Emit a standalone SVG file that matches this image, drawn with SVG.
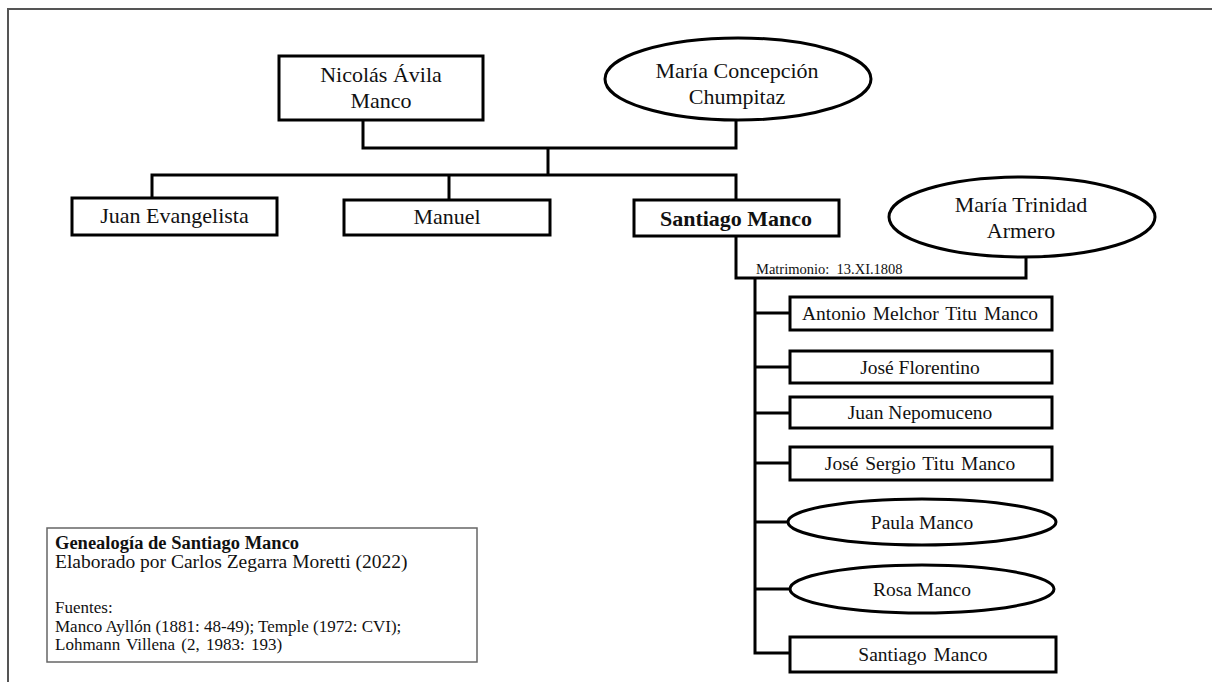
<svg xmlns="http://www.w3.org/2000/svg" width="1212" height="682" viewBox="0 0 1212 682">
<style>
.bg{fill:#fff}
.frame{fill:none;stroke:#555;stroke-width:2}
.node{fill:#fff;stroke:#000;stroke-width:3}
.con{fill:none;stroke:#000;stroke-width:3}
text{font-family:"Liberation Serif","Times New Roman",serif;fill:#111;text-anchor:middle}
.t1{font-size:22px}
.t1b{font-size:22px;font-weight:bold}
.t2{font-size:19.5px}
.small{font-size:14.5px;text-anchor:start}
.leg{fill:#fff;stroke:#666;stroke-width:1.5}
.lt{text-anchor:start}
</style>
<rect class="bg" x="0" y="0" width="1212" height="682"/>
<path class="frame" d="M8,682 V9 H1212"/>
<g id="connectors">
<path class="con" d="M363,120 V148 H736 V120"/>
<path class="con" d="M548,148 V175"/>
<path class="con" d="M152,198 V175 H736 V200"/>
<path class="con" d="M449,175 V200"/>
<path class="con" d="M736,236 V278 H1026 V257"/>
<path class="con" d="M755,278 V653 H790"/>
<path class="con" d="M755,313 H790"/>
<path class="con" d="M755,367 H790"/>
<path class="con" d="M755,413 H790"/>
<path class="con" d="M755,463 H790"/>
<path class="con" d="M755,522 H789"/>
<path class="con" d="M755,589 H791"/>
</g>
<text class="small" x="756" y="274" xml:space="preserve">Matrimonio:  13.XI.1808</text>
<g id="n-nicolas">
<rect class="node" x="279" y="56" width="204" height="64"/>
<text class="t1" x="381" y="82">Nicolás Ávila</text>
<text class="t1" x="381" y="108">Manco</text>
</g>
<g id="n-maria-concepcion">
<ellipse class="node" cx="738" cy="79" rx="133" ry="41"/>
<text class="t1" x="737" y="78">María Concepción</text>
<text class="t1" x="737" y="104">Chumpitaz</text>
</g>
<g id="n-juan-evangelista">
<rect class="node" x="72" y="198" width="205" height="37"/>
<text class="t1" x="174.5" y="223">Juan Evangelista</text>
</g>
<g id="n-manuel">
<rect class="node" x="344" y="200" width="206" height="35"/>
<text class="t1" x="447" y="224">Manuel</text>
</g>
<g id="n-santiago">
<rect class="node" x="634" y="200" width="205" height="36"/>
<text class="t1b" x="736" y="226">Santiago Manco</text>
</g>
<g id="n-maria-trinidad">
<ellipse class="node" cx="1022" cy="217" rx="133" ry="40"/>
<text class="t1" x="1021" y="212">María Trinidad</text>
<text class="t1" x="1021" y="238">Armero</text>
</g>
<g id="n-antonio">
<rect class="node" x="790" y="297" width="262" height="33"/>
<text class="t2" x="920" y="320" word-spacing="2">Antonio Melchor Titu Manco</text>
</g>
<g id="n-jose-florentino">
<rect class="node" x="790" y="351" width="262" height="32"/>
<text class="t2" x="920" y="374">José Florentino</text>
</g>
<g id="n-juan-nepomuceno">
<rect class="node" x="790" y="397" width="262" height="31"/>
<text class="t2" x="920" y="419">Juan Nepomuceno</text>
</g>
<g id="n-jose-sergio">
<rect class="node" x="790" y="447" width="262" height="33"/>
<text class="t2" x="920" y="470" word-spacing="2">José Sergio Titu Manco</text>
</g>
<g id="n-paula">
<ellipse class="node" cx="922" cy="522" rx="134" ry="23"/>
<text class="t2" x="922" y="529">Paula Manco</text>
</g>
<g id="n-rosa">
<ellipse class="node" cx="922" cy="589" rx="132" ry="24"/>
<text class="t2" x="922" y="596">Rosa Manco</text>
</g>
<g id="n-santiago-jr">
<rect class="node" x="790" y="637" width="266" height="35"/>
<text class="t2" x="923" y="661" word-spacing="2">Santiago Manco</text>
</g>
<g id="legend">
<rect class="leg" x="47" y="528" width="430" height="134"/>
<text class="lt" x="55" y="549" style="font-size:18.5px;font-weight:bold">Genealogía de Santiago Manco</text>
<text class="lt" x="55" y="568" style="font-size:19.5px">Elaborado por Carlos Zegarra Moretti (2022)</text>
<text class="lt" x="55" y="613" style="font-size:17px">Fuentes:</text>
<text class="lt" x="55" y="632" style="font-size:17px">Manco Ayllón (1881: 48-49); Temple (1972: CVI);</text>
<text class="lt" x="55" y="650" style="font-size:17px" word-spacing="2">Lohmann Villena (2, 1983: 193)</text>
</g>
</svg>
